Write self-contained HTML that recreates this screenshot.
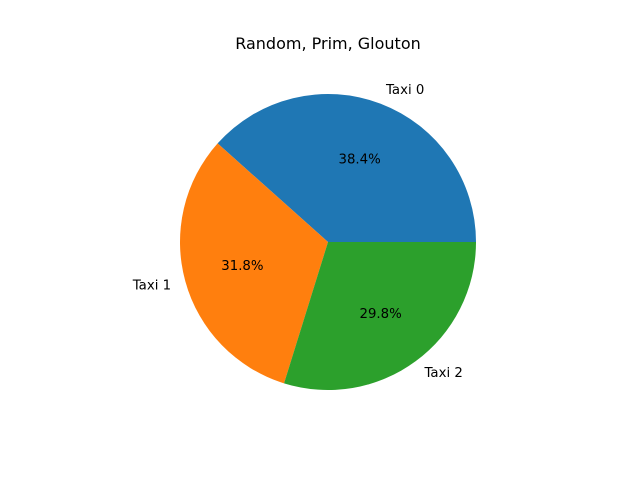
<!DOCTYPE html>
<html><head><meta charset="utf-8"><style>
body{margin:0;background:#fff}
svg{display:block;font-family:"DejaVu Sans","Liberation Sans",sans-serif}
</style></head><body>
<svg id="chart" width="640" height="480">
<rect width="640" height="480" fill="#fff"/>
<text x="328" y="49" text-anchor="middle" font-size="16" fill="#000">Random, Prim, Glouton</text>
<g id="slices"></g>
</svg>
<script>
const labels = ["Taxi 0", "Taxi 1", "Taxi 2"];
const values = [38.4, 31.8, 29.8];
const colors = ["#1f77b4", "#ff7f0e", "#2ca02c"];
const cx = 328, cy = 242, r = 148;
const g = document.getElementById('slices');
const NS = "http://www.w3.org/2000/svg";
const total = values.reduce((a, b) => a + b, 0);
let start = 0;
values.forEach((v, i) => {
  const frac = v / total;
  const a0 = start * 2 * Math.PI, a1 = (start + frac) * 2 * Math.PI;
  const x0 = cx + r * Math.cos(a0), y0 = cy - r * Math.sin(a0);
  const x1 = cx + r * Math.cos(a1), y1 = cy - r * Math.sin(a1);
  const large = frac > 0.5 ? 1 : 0;
  const p = document.createElementNS(NS, 'path');
  p.setAttribute('d', `M${cx},${cy} L${x0},${y0} A${r},${r} 0 ${large} 0 ${x1},${y1} Z`);
  p.setAttribute('fill', colors[i]);
  
  
  g.appendChild(p);
  const am = (a0 + a1) / 2;
  const lx = cx + 1.1 * r * Math.cos(am), ly = cy - 1.1 * r * Math.sin(am);
  const t = document.createElementNS(NS, 'text');
  t.setAttribute('x', lx); t.setAttribute('y', ly + 4);
  t.setAttribute('font-size', '13.3');
  t.setAttribute('text-anchor', Math.cos(am) >= 0 ? 'start' : 'end');
  t.textContent = labels[i];
  
  
  g.appendChild(t);
  const px = cx + 0.6 * r * Math.cos(am), py = cy - 0.6 * r * Math.sin(am);
  const pt = document.createElementNS(NS, 'text');
  pt.setAttribute('x', px); pt.setAttribute('y', py + 4.5);
  pt.setAttribute('font-size', '13.3');
  pt.setAttribute('text-anchor', 'middle');
  pt.textContent = (frac * 100).toFixed(1) + '%';
  
  
  g.appendChild(pt);
  start += frac;
});
</script>
</body></html>
